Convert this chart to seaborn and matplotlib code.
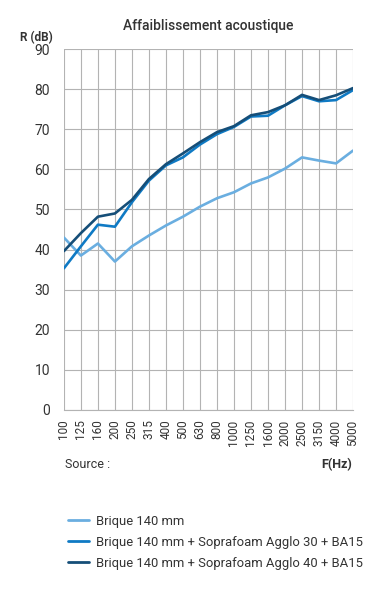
import pandas as pd
import numpy as np
import matplotlib
matplotlib.use("Agg")
import matplotlib.pyplot as plt
import seaborn as sns
from matplotlib.lines import Line2D

freqs = ["100", "125", "160", "200", "250", "315", "400", "500", "630", "800",
         "1000", "1250", "1600", "2000", "2500", "3150", "4000", "5000"]
brique = [43.0, 38.5, 41.5, 37.0, 40.8, 43.5, 46.0, 48.2, 50.7, 52.8,
          54.3, 56.5, 58.0, 60.2, 63.0, 62.2, 61.5, 64.7]
agglo30 = [35.3, 40.8, 46.2, 45.7, 51.8, 57.2, 61.0, 63.0, 66.2, 68.8,
           70.6, 73.2, 73.4, 76.0, 78.3, 77.0, 77.3, 79.8]
agglo40 = [39.6, 44.1, 48.2, 49.0, 52.4, 57.6, 61.3, 64.0, 66.8, 69.3,
           70.8, 73.5, 74.3, 76.0, 78.6, 77.3, 78.5, 80.3]
labels = ["Brique 140 mm",
          "Brique 140 mm + Soprafoam Agglo 30 + BA15",
          "Brique 140 mm + Soprafoam Agglo 40 + BA15"]
colors = ["#6aaee0", "#0f7ac4", "#154e78"]

rows = []
for lab, vals in zip(labels, [brique, agglo30, agglo40]):
    for i, (f, v) in enumerate(zip(freqs, vals)):
        rows.append({"pos": i, "freq": f, "R": v, "serie": lab})
df = pd.DataFrame(rows)

sns.set_style("white")
plt.rcParams["font.family"] = ["Roboto", "DejaVu Sans"]
txt = "#333333"

fig = plt.figure(figsize=(3.78, 6.0), dpi=100)
ax = fig.add_axes([0.169, 0.317, 0.765, 0.601])

sns.lineplot(data=df, x="pos", y="R", hue="serie", palette=colors,
             linewidth=1.9, legend=False, ax=ax, zorder=3)

ax.set_xlim(0, len(freqs) - 1)
ax.set_ylim(0, 90)
ax.set_xticks(range(len(freqs)))
ax.set_xticklabels(freqs, rotation=90, fontsize=8.5, color=txt)
ax.set_yticks(range(0, 91, 10))
ax.set_yticklabels([str(v) for v in range(0, 91, 10)], fontsize=10, color=txt)
ax.tick_params(axis="y", length=0, pad=10)
ax.tick_params(axis="x", length=0, pad=7)
ax.grid(True, color="#b3b3b3", linewidth=0.8)
for s in ax.spines.values():
    s.set_visible(False)
ax.spines["bottom"].set_visible(True)
ax.spines["bottom"].set_color("#b3b3b3")
ax.set_xlabel("")
ax.set_ylabel("")

fig.text(208 / 378, 1 - 26 / 600, "Affaiblissement acoustique", ha="center",
         va="center", fontsize=10, fontweight="medium", color=txt)
fig.text(20 / 378, 1 - 38 / 600, "R (dB)", ha="left", va="center",
         fontsize=8.5, fontweight="bold", color=txt)
fig.text(65 / 378, 1 - 465 / 600, "Source :", ha="left", va="center",
         fontsize=9, color=txt)
fig.text(352 / 378, 1 - 465 / 600, "F(Hz)", ha="right", va="center",
         fontsize=9, fontweight="bold", color=txt)

handles = [Line2D([0], [0], color=c, linewidth=2) for c in colors]
fig.legend(handles, labels, loc="upper left", bbox_to_anchor=(56 / 378, 1 - 503 / 600),
           frameon=False, fontsize=9.4, handlelength=1.6, handletextpad=0.6,
           labelspacing=0.62, labelcolor=txt)

fig.savefig("out.png", dpi=100)
